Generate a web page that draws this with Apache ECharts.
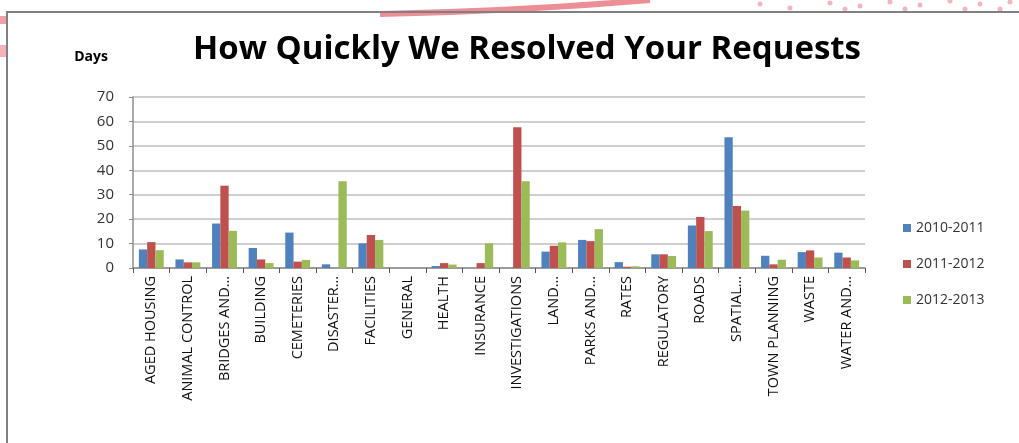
<!DOCTYPE html>
<html>
<head>
<meta charset="utf-8">
<script src="https://cdn.jsdelivr.net/npm/echarts@6/dist/echarts.min.js"></script>
<style>html,body{margin:0;padding:0;background:#fff;}#c{width:1019px;height:443px;}</style>
</head>
<body>
<div id="c"></div>
<script>
const categories = ['AGED HOUSING','ANIMAL CONTROL','BRIDGES AND…','BUILDING','CEMETERIES','DISASTER…','FACILITIES','GENERAL','HEALTH','INSURANCE','INVESTIGATIONS','LAND…','PARKS AND…','RATES','REGULATORY','ROADS','SPATIAL…','TOWN PLANNING','WASTE','WATER AND…'];
const seriesNames = ['2010-2011','2011-2012','2012-2013'];
const y2010 = [7.6,3.5,18.2,8.2,14.5,1.5,10.1,0,0.8,0,0,6.7,11.5,2.4,5.6,17.4,53.5,5.0,6.5,6.3];
const y2011 = [10.6,2.3,33.7,3.5,2.6,0,13.5,0,2.0,2.0,57.6,9.1,11.0,0.5,5.6,20.9,25.4,1.5,7.2,4.3];
const y2012 = [7.3,2.3,15.2,2.0,3.3,35.5,11.5,0,1.4,10.1,35.5,10.5,15.9,0.7,4.9,15.1,23.5,3.4,4.3,3.1];
const yTicks = [0,10,20,30,40,50,60,70];

const colors = ['#4f81bd','#c0504d','#9bbb59'];
const chart = echarts.init(document.getElementById('c'), null, {renderer:'canvas'});
const dataSets = [y2010, y2011, y2012];
chart.setOption({
  animation:false,
  backgroundColor:'#ffffff',
  color: colors,
  title:{
    text:'How Quickly We Resolved Your Requests',
    left:188, top:28,
    textStyle:{fontFamily:'Open Sans', fontWeight:'bold', fontSize:33, color:'#000'}
  },
  legend:{
    orient:'vertical', left:898, top:216,
    itemWidth:8, itemHeight:8, itemGap:22,
    icon:'rect',
    textStyle:{fontFamily:'Open Sans', fontSize:14, color:'#333'},
    data: seriesNames
  },
  grid:{left:133, right:154, top:97, bottom:175},
  xAxis:{
    type:'category', data:categories,
    axisLine:{lineStyle:{color:'#8c8c8c', width:1.5}},
    axisTick:{show:true, length:5, lineStyle:{color:'#555'}},
    axisLabel:{rotate:90, interval:0, fontFamily:'Open Sans', fontSize:14.5, color:'#111', margin:8}
  },
  yAxis:{
    type:'value', min:yTicks[0], max:yTicks[yTicks.length-1], interval:10,
    name:'Days', nameLocation:'end', nameGap:33,
    nameTextStyle:{fontFamily:'Open Sans', fontWeight:'bold', fontSize:14, color:'#000', align:'right', padding:[0,25,0,0]},
    axisLine:{show:true, lineStyle:{color:'#8c8c8c', width:1.5}},
    axisTick:{show:true, length:4, lineStyle:{color:'#8c8c8c'}},
    axisLabel:{fontFamily:'Open Sans', fontSize:15, color:'#333', margin:19},
    splitLine:{lineStyle:{color:'#bfbfbf', width:1.5}}
  },
  series: seriesNames.map((n,i)=>({
    name:n, type:'bar', data:dataSets[i],
    barGap:'0%', barCategoryGap:'32%',
    itemStyle:{color:colors[i]}
  })),
  graphic:[
    {type:'bezierCurve', silent:true, z:-1,
     shape:{x1:380,y1:14,x2:650,y2:0,cpx1:480,cpy1:12,cpx2:580,cpy2:6},
     style:{stroke:'#e8707a', lineWidth:6, fill:null, opacity:0.8}},
    {type:'rect', silent:true, shape:{x:0,y:16,width:6,height:8}, style:{fill:'#f2a0a8'}},
    {type:'rect', silent:true, shape:{x:0,y:45,width:6,height:12}, style:{fill:'#f5b3b9'}},
    {type:'rect', silent:true, z:10, shape:{x:7,y:12,width:1100,height:500},
     style:{fill:null, stroke:'#808080', lineWidth:2}},
    ...[[830,3],[860,6],[890,2],[920,5],[950,1],[980,4],[1010,2],[845,9],[905,9],[965,9],[1000,9],[760,4],[790,8]].map(p=>({
      type:'circle', silent:true, shape:{cx:p[0],cy:p[1],r:2.5}, style:{fill:'#f3b6c0'}
    }))
  ]
});
</script>
</body>
</html>
